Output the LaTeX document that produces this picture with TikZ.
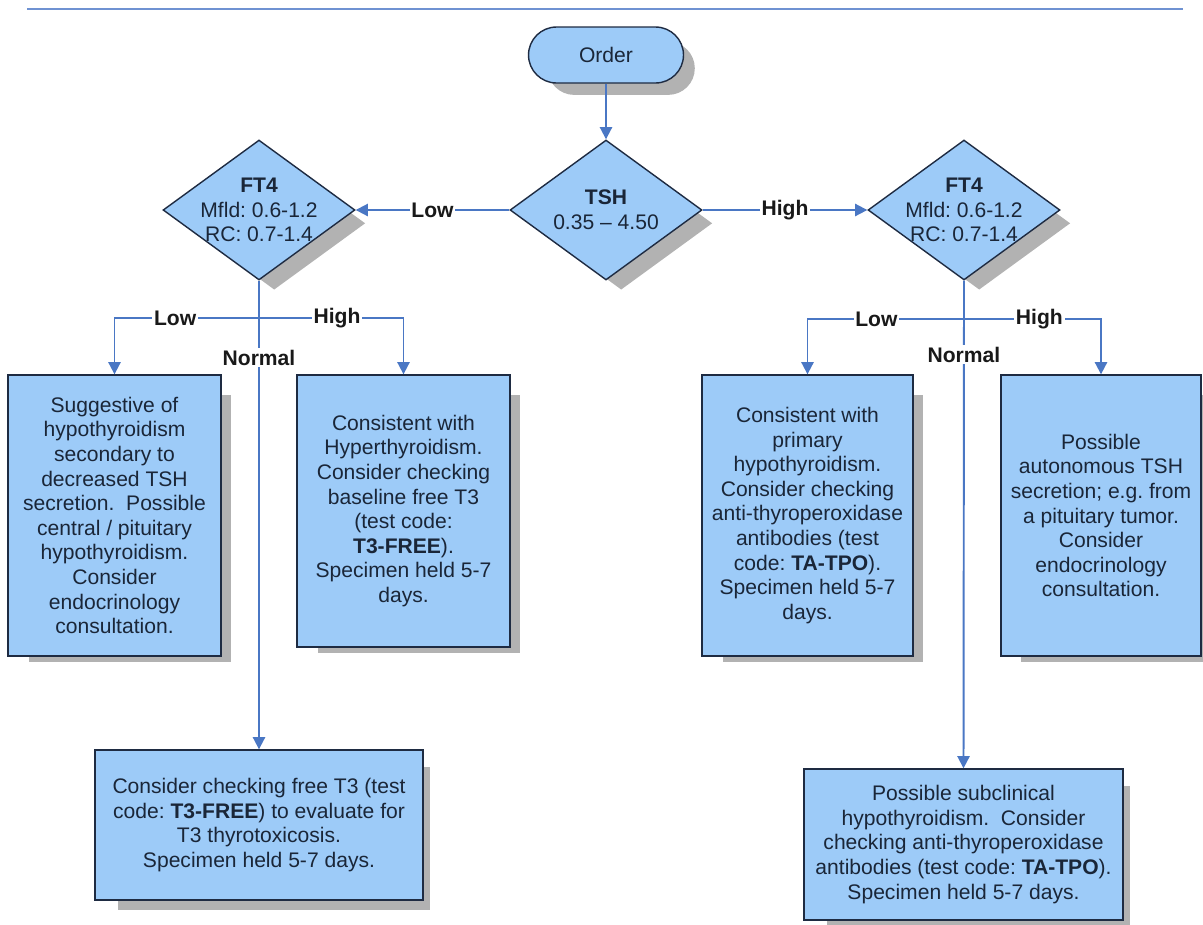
\documentclass[tikz,border=0pt]{standalone}
\usepackage{fontspec}
\setmainfont{Liberation Sans}
\frenchspacing
\usepackage{tikz}
\usetikzlibrary{shapes.geometric, arrows.meta, positioning, shadows}
\definecolor{ChartBlue}{HTML}{9DCBF8}
\definecolor{EdgeNavy}{HTML}{1E2B42}
\definecolor{FlowBlue}{HTML}{4A77C4}
\definecolor{RuleBlue}{HTML}{6F92D2}
\definecolor{InkNavy}{HTML}{1A2638}
\tikzset{
  % Shape styles
  boxshadow/.style={drop shadow={shadow scale=0.95, shadow xshift=0.32cm, shadow yshift=-0.28cm, fill=black!30, opacity=1}},
  startbox/.style={rectangle, rounded corners=0.56cm, draw=EdgeNavy, line width=0.8pt, fill=ChartBlue, minimum width=3.1cm, minimum height=1.12cm, boxshadow, text=InkNavy, font=\fontsize{12}{14}\selectfont},
  decisionbox/.style={diamond, draw=EdgeNavy, line width=0.8pt, fill=ChartBlue, minimum width=3.84cm, minimum height=2.8cm, inner sep=0pt, boxshadow},
  resultbox/.style={rectangle, draw=EdgeNavy, line width=0.8pt, fill=ChartBlue, boxshadow, text=InkNavy, font=\fontsize{12}{14}\selectfont, align=center},
  infotext/.style={font=\fontsize{12}{14}\selectfont, text=InkNavy, align=center},
  % Arrow styles
  arrow/.style={-{Triangle[width=7pt,length=7pt]}, line width=1.1pt, FlowBlue},
  branchlabel/.style={fill=white, inner sep=1pt, text=black!90, font=\fontsize{12}{14}\selectfont\bfseries}
}
\begin{document}
\begin{tikzpicture}[x=0.02cm, y=-0.02cm]
  \useasboundingbox (0,0) rectangle (1203,924);
  \draw[RuleBlue, line width=1.2pt] (27,9) -- (1183,9);

  % Start and TSH
  \node[startbox] (order) at (606,55) {Order};
  \node[decisionbox] (tsh) at (606,210) {};
  \node[infotext] (tshtext) at (606,210) {\textbf{TSH}\\0.35 -- 4.50};

  % FT4 decisions
  \node[decisionbox] (ftl) at (259,210) {};
  \node[infotext] (ftltext) at (259,210) {\textbf{FT4}\\Mfld: 0.6-1.2\\RC: 0.7-1.4};
  \node[decisionbox] (ftr) at (964,210) {};
  \node[infotext] (ftrtext) at (964,210) {\textbf{FT4}\\Mfld: 0.6-1.2\\RC: 0.7-1.4};

  % Results, low TSH
  \node[resultbox, minimum width=4.26cm, minimum height=5.62cm] (cent) at (114.5,515.5) {
    Suggestive of\\
    hypothyroidism\\
    secondary to\\
    decreased TSH\\
    secretion.\ \ Possible\\
    central / pituitary\\
    hypothyroidism.\\
    Consider\\
    endocrinology\\
    consultation.
  };
  \node[resultbox, minimum width=4.26cm, minimum height=5.44cm] (hyper) at (403.5,511) {
    Consistent with\\
    Hyperthyroidism.\\
    Consider checking\\
    baseline free T3\\
    (test code:\\
    \textbf{T3-FREE}).\\
    Specimen held 5-7\\
    days.
  };
  \node[resultbox, minimum width=6.56cm, minimum height=3cm] (tthree) at (259,825) {
    Consider checking free T3 (test\\
    code: \textbf{T3-FREE}) to evaluate for\\
    T3 thyrotoxicosis.\\
    Specimen held 5-7 days.
  };

  % Results, high TSH
  \node[resultbox, minimum width=4.22cm, minimum height=5.62cm] (prim) at (807.5,515.5) {
    Consistent with\\
    primary\\
    hypothyroidism.\\
    Consider checking\\
    anti-thyroperoxidase\\
    antibodies (test\\
    code: \textbf{TA-TPO}).\\
    Specimen held 5-7\\
    days.
  };
  \node[resultbox, minimum width=4cm, minimum height=5.62cm] (auton) at (1101,515.5) {
    Possible\\
    autonomous TSH\\
    secretion; e.g. from\\
    a pituitary tumor.\\
    Consider\\
    endocrinology\\
    consultation.
  };
  \node[resultbox, minimum width=6.38cm, minimum height=3.02cm] (subcl) at (963.5,844.5) {
    Possible subclinical\\
    hypothyroidism.\ \ Consider\\
    checking anti-thyroperoxidase\\
    antibodies (test code: \textbf{TA-TPO}).\\
    Specimen held 5-7 days.
  };

  % Connectors
  \draw[arrow] (order) -- (tsh);
  \draw[arrow] (tsh.west) -- node[branchlabel]{Low} (ftl.east);
  \draw[arrow] (tsh.east) -- node[branchlabel]{High} (ftr.west);

  \coordinate (lsplit) at (259,318);
  \draw[arrow] (ftl.south) -- node[branchlabel, pos=0.164]{Normal} (tthree.north);
  \draw[arrow] (lsplit) -| node[branchlabel, pos=0.29]{Low} (cent.north);
  \draw[arrow] (lsplit) -| node[branchlabel, pos=0.27]{High} (hyper.north);

  \coordinate (rsplit) at (964,319);
  \draw[arrow] (ftr.south) -- node[branchlabel, pos=0.152]{Normal} (subcl.north);
  \draw[arrow] (rsplit) -| node[branchlabel, pos=0.28]{Low} (prim.north);
  \draw[arrow] (rsplit) -| node[branchlabel, pos=0.275]{High} (auton.north);
\end{tikzpicture}
\end{document}
